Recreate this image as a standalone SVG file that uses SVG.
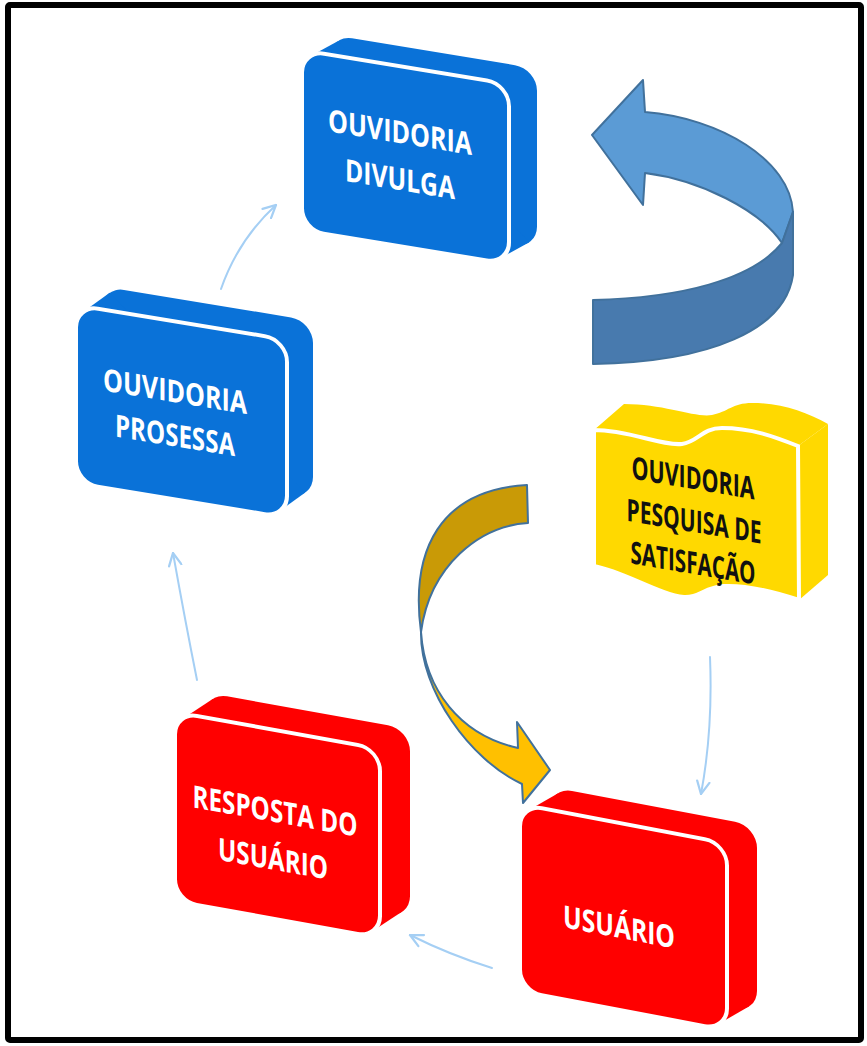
<svg xmlns="http://www.w3.org/2000/svg" width="867" height="1046" viewBox="0 0 867 1046">
<style>
.blue{fill:#0A72D8}
.red{fill:#FF0000}
.yel{fill:#FFD900}
.front{stroke:#fff;stroke-width:4}
.lbl{font-family:"Open Sans","Liberation Sans",sans-serif;font-weight:700;font-size:31px;fill:#fff;text-anchor:middle}
.dark{fill:#111}
.conn{fill:none;stroke:#A5CFF4;stroke-width:2;stroke-linecap:round}
.arr{stroke:#41719C;stroke-width:2;stroke-linejoin:round}
</style>
<defs>
<marker id="ah" viewBox="0 0 12 12" refX="11" refY="6" markerWidth="15" markerHeight="15" markerUnits="userSpaceOnUse" orient="auto">
<path d="M1,1 L11,6 L1,11" fill="none" stroke="#A5CFF4" stroke-width="1.8" stroke-linecap="round"/>
</marker>
</defs>
<rect x="0" y="0" width="867" height="1046" fill="#fff"/>
<rect x="8" y="5" width="853" height="1035" fill="none" stroke="#000" stroke-width="6" rx="2"/>

<g id="connectors">
<path class="conn" d="M221,289 Q238,240 276,205" marker-end="url(#ah)"/>
<path class="conn" d="M197,680 Q185,620 173,553" marker-end="url(#ah)"/>
<path class="conn" d="M492,968 Q450,955 410,935" marker-end="url(#ah)"/>
<path class="conn" d="M710,657 Q713,730 701,794" marker-end="url(#ah)"/>
</g>

<g id="blue-arrow">
<path class="arr" fill="#5B9BD5" d="M592,135 L643,80 L645,112 C720,118 790,160 793,212 L782,243 C760,210 700,180 645,173 L643,205 Z"/>
<path class="arr" fill="#487AAE" d="M782,243 L793,212 L793,275 C785,330 710,362 593,364 L593,300 C680,298 752,280 782,243 Z"/>
</g>

<g id="gold-arrow">
<path class="arr" fill="#C99A06" d="M527,485 L528,523 C480,526 430,565 421,632 C410,550 440,490 527,485 Z"/>
<path class="arr" fill="#FFC000" d="M421,632 C425,690 460,735 518,748 L517,722 L550,770 L523,803 L522,784 C470,760 420,690 421,632 Z"/>
</g>

<g id="divulga" transform="matrix(1,0.165,0,1,302,50)">
<rect class="blue" x="28" y="-20" width="207" height="180" rx="22"/>
<polygon class="blue" points="7.7,5.3 35.7,-14.7 227.3,154.7 199.3,174.7"/>
<rect class="blue front" x="0" y="0" width="207" height="180" rx="22"/>
<text class="lbl" x="98" y="77" textLength="144" lengthAdjust="spacingAndGlyphs">OUVIDORIA</text>
<text class="lbl" x="98" y="124" textLength="110" lengthAdjust="spacingAndGlyphs">DIVULGA</text>
</g>

<g id="prosessa" transform="matrix(1,0.165,0,1,76,305)">
<rect class="blue" x="26" y="-23" width="211" height="178" rx="22"/>
<polygon class="blue" points="7.7,5.3 33.7,-17.7 229.3,149.7 203.3,172.7"/>
<rect class="blue front" x="0" y="0" width="211" height="178" rx="22"/>
<text class="lbl" x="99" y="81" textLength="144" lengthAdjust="spacingAndGlyphs">OUVIDORIA</text>
<text class="lbl" x="99" y="125" textLength="120" lengthAdjust="spacingAndGlyphs">PROSESSA</text>
</g>

<g id="resposta" transform="matrix(1,0.18,0,1,175,712)">
<rect class="red" x="30" y="-25" width="205" height="189" rx="22"/>
<polygon class="red" points="7.7,5.3 37.7,-19.7 227.3,158.7 197.3,183.7"/>
<rect class="red front" x="0" y="0" width="205" height="189" rx="22"/>
<text class="lbl" x="100" y="92" textLength="165" lengthAdjust="spacingAndGlyphs">RESPOSTA DO</text>
<text class="lbl" x="98" y="140" textLength="110" lengthAdjust="spacingAndGlyphs">USUÁRIO</text>
</g>

<g id="usuario" transform="matrix(1,0.19,0,1,520,804)">
<rect class="red" x="30" y="-23" width="207" height="187" rx="22"/>
<polygon class="red" points="7.7,5.3 37.7,-17.7 229.3,158.7 199.3,181.7"/>
<rect class="red front" x="0" y="0" width="207" height="187" rx="22"/>
<text class="lbl" x="99" y="115" textLength="112" lengthAdjust="spacingAndGlyphs">USUÁRIO</text>
</g>

<g id="pesquisa">
<path class="yel" d="M594,430 L624,404 C665,404 695,418 712,415 C728,412 732,403 752,403 C782,403 806,412 828,424 L798,446 C775,437 752,428 722,428 C702,428 698,442 682,444 C660,446 630,430 594,430 Z"/>
<path class="yel" d="M798,446 L828,424 L828,575 L799,600 Z"/>
<path class="yel front" d="M594,430 C630,430 660,446 682,444 C698,442 702,428 722,428 C752,428 775,437 798,446 L799,600 C775,592 748,585 724,586 C704,587 700,598 684,597 C660,595 625,572 594,566 Z"/>
<g transform="matrix(1,0.17,0,1,693,489)">
<text class="lbl dark" x="0" y="0" textLength="123" lengthAdjust="spacingAndGlyphs">OUVIDORIA</text>
<text class="lbl dark" x="1" y="43" textLength="135" lengthAdjust="spacingAndGlyphs">PESQUISA DE</text>
<text class="lbl dark" x="0" y="85" textLength="125" lengthAdjust="spacingAndGlyphs">SATISFAÇÃO</text>
</g>
</g>
</svg>
